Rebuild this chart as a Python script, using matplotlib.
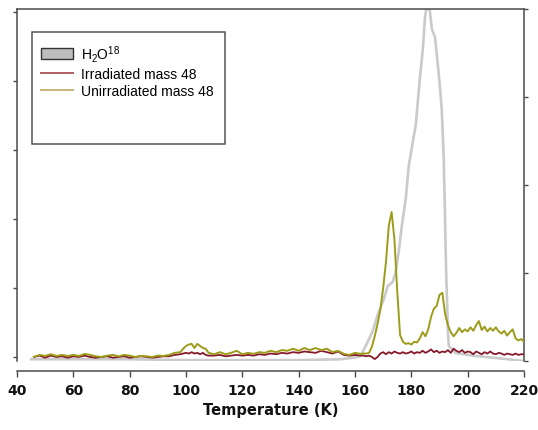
import matplotlib
matplotlib.use("Agg")
import matplotlib.pyplot as plt
from matplotlib.lines import Line2D
from matplotlib.patches import Patch, Rectangle

plt.rcParams["mathtext.default"] = "regular"

# mass 48 traces (left axis, arbitrary units)
temp_mass = [46, 48, 50, 52, 54, 56, 58, 60, 62, 64, 66, 68, 70, 72, 74, 76, 78, 80, 82, 84, 86, 88, 90, 92, 94,
             96, 98, 99, 100, 101, 102, 103, 104, 105, 106, 107, 108,
             110, 112, 114, 116, 118, 120, 122, 124, 126, 128, 130, 132, 134, 136, 138, 140, 142, 144, 146, 148,
             150, 152, 154, 156, 158, 160, 162,
             163, 164, 165, 166, 167, 168, 169, 170, 171, 172, 173, 174, 175, 176, 177, 178, 179, 180, 181, 182,
             183, 184, 185, 186, 187, 188, 189, 190, 191, 192, 193, 194, 195, 196, 197, 198, 199, 200, 201, 202,
             203, 204, 205, 206, 207, 208, 209, 210, 211, 212, 213, 214, 215, 216, 217, 218, 219, 220]

unirradiated = [0.00, 0.03, 0.015, 0.04, 0.015, 0.03, 0.015, 0.03, 0.015, 0.045, 0.03, 0.01, 0.00, 0.02, 0.03,
                0.01, 0.03, 0.02, 0.00, 0.015, 0.01, 0.00, 0.02, 0.015, 0.03,
                0.06, 0.07, 0.12, 0.16, 0.18, 0.19, 0.13, 0.19, 0.16, 0.13, 0.12, 0.06,
                0.04, 0.07, 0.04, 0.06, 0.09, 0.04, 0.06, 0.045, 0.07, 0.06, 0.09, 0.07, 0.10, 0.09, 0.12, 0.09,
                0.13, 0.10, 0.13, 0.10, 0.12, 0.07, 0.09, 0.045, 0.03, 0.06, 0.045,
                0.05, 0.05, 0.06, 0.15, 0.30, 0.48, 0.68, 1.00, 1.38, 1.90, 2.10, 1.70, 0.95, 0.32, 0.22, 0.19,
                0.20, 0.18, 0.22, 0.21, 0.27, 0.36, 0.30, 0.40, 0.58, 0.70, 0.74, 0.90, 0.93, 0.62, 0.46, 0.36,
                0.30, 0.35, 0.42, 0.36, 0.40, 0.37, 0.43, 0.38, 0.46, 0.52, 0.39, 0.44, 0.37, 0.42, 0.38, 0.43,
                0.37, 0.34, 0.38, 0.31, 0.36, 0.40, 0.27, 0.24, 0.26, 0.22]

irradiated = [0.00, 0.02, -0.01, 0.02, 0.00, 0.01, -0.01, 0.01, 0.00, 0.02, 0.00, -0.01, 0.00, 0.01, -0.01,
              0.00, 0.01, -0.01, 0.00, 0.01, 0.00, -0.01, 0.00, 0.01, 0.01,
              0.03, 0.04, 0.05, 0.06, 0.05, 0.07, 0.05, 0.06, 0.04, 0.06, 0.03, 0.02,
              0.02, 0.03, 0.01, 0.02, 0.03, 0.02, 0.03, 0.02, 0.04, 0.03, 0.05, 0.04, 0.06, 0.05, 0.07, 0.06,
              0.08, 0.07, 0.06, 0.09, 0.07, 0.05, 0.08, 0.03, 0.02, 0.03, 0.02,
              0.02, 0.01, 0.02, 0.00, -0.03, 0.00, 0.05, 0.07, 0.04, 0.07, 0.05, 0.08, 0.06, 0.05, 0.07, 0.05,
              0.06, 0.08, 0.05, 0.07, 0.06, 0.09, 0.06, 0.08, 0.11, 0.07, 0.09, 0.06, 0.08, 0.07, 0.10, 0.06,
              0.12, 0.09, 0.07, 0.10, 0.06, 0.08, 0.07, 0.04, 0.08, 0.06, 0.04, 0.07, 0.05, 0.08, 0.05, 0.04,
              0.06, 0.05, 0.03, 0.05, 0.04, 0.03, 0.05, 0.03, 0.04, 0.04]

# H2O18 trace (right axis)
temp_water = [45, 60, 80, 100, 120, 140, 155, 160, 162, 163.8, 166.3, 168.4, 170.2, 171.6, 173.4, 174.5, 175.5,
              176.6, 178.0, 179.1, 181.6, 183.0, 184.1, 184.8, 185.5, 186.6, 187.3, 188.4, 189.8, 190.8, 191.5,
              191.9, 192.3, 193.0, 193.3, 195.8, 202.2, 214.3, 219.6]
water = [0.02, 0.02, 0.02, 0.01, 0.01, 0.01, 0.02, 0.04, 0.06, 0.17, 0.34, 0.56, 0.70, 0.85, 0.90, 1.02, 1.24,
         1.53, 1.84, 2.22, 2.69, 3.20, 3.55, 3.89, 4.05, 3.97, 3.77, 3.68, 3.24, 2.86, 2.30,
         1.73, 1.08, 0.33, 0.17, 0.09, 0.06, 0.02, 0.00]

x_ticks = [40, 60, 80, 100, 120, 140, 160, 180, 200, 220]
left_ticks = [0, 1, 2, 3, 4, 5]
right_ticks = [0, 1, 2, 3, 4]

green = "#9d9c1a"
red = "#86192a"
grey = "#cacaca"
spine_col = "#4a4a4a"

fig = plt.figure(figsize=(5.38, 4.31), dpi=100)
ax = fig.add_axes([17 / 538, 69 / 431, 507 / 538, 352 / 431])
ax2 = ax.twinx()

ax2.plot(temp_water, water, color=grey, lw=1.9, solid_joinstyle="round")
ax.plot(temp_mass, irradiated, color=red, lw=1.3)
ax.plot(temp_mass, unirradiated, color=green, lw=1.4)

ax.set_zorder(ax2.get_zorder() + 1)
ax.patch.set_visible(False)

ax.set_xlim(40, 220)
ax.set_ylim(-0.058, 5.04)
ax2.set_ylim(0, 4)

ax.set_xticks(x_ticks)
ax.set_yticks(left_ticks)
ax.set_yticklabels([])
ax2.set_yticks(right_ticks)
ax2.set_yticklabels([])

ax.spines["right"].set_visible(False)
for s in ["top", "bottom", "left"]:
    ax2.spines[s].set_visible(False)
for sp in list(ax.spines.values()) + list(ax2.spines.values()):
    sp.set_color(spine_col)
    sp.set_linewidth(1.1)
ax.spines["bottom"].set_position(("outward", 7.5))

ax.tick_params(axis="x", direction="out", length=4, width=1.0, color=spine_col, pad=4,
               labelsize=10, labelcolor="#111111")
ax.tick_params(axis="y", direction="out", length=3, width=1.0, color=spine_col)
ax2.tick_params(axis="y", direction="out", length=3, width=1.0, color=spine_col)
for lab in ax.get_xticklabels():
    lab.set_fontweight("bold")

ax.set_xlabel("Temperature (K)", fontsize=10.5, fontweight="bold", labelpad=4, color="#111111")

# legend with a tall frame
x0 = (32 - 17) / 507
y0 = (362 - 145) / 352
w = (225 - 32) / 507
h = (145 - 33) / 352
ax.add_patch(Rectangle((x0, y0), w, h, transform=ax.transAxes, fill=True, facecolor="white",
                       edgecolor="#555555", lw=1.1, zorder=5, clip_on=False))

handles = [Patch(facecolor="#bdbdbd", edgecolor="#333333", lw=1.0),
           Line2D([], [], color="#b06060", lw=1.4),
           Line2D([], [], color="#c8b478", lw=1.4)]
labels = ["H$_2$O$^{18}$", "Irradiated mass 48", "Unirradiated mass 48"]
leg = ax.legend(handles, labels, loc="upper left", bbox_to_anchor=((41 - 17) / 507, (362 - 44) / 352),
                frameon=False, borderpad=0, borderaxespad=0, handlelength=2.3, handleheight=0.8,
                handletextpad=0.6, labelspacing=0.22,
                prop={"family": "Liberation Sans", "size": 10})
leg.set_zorder(6)

fig.savefig("out.png", dpi=100)
